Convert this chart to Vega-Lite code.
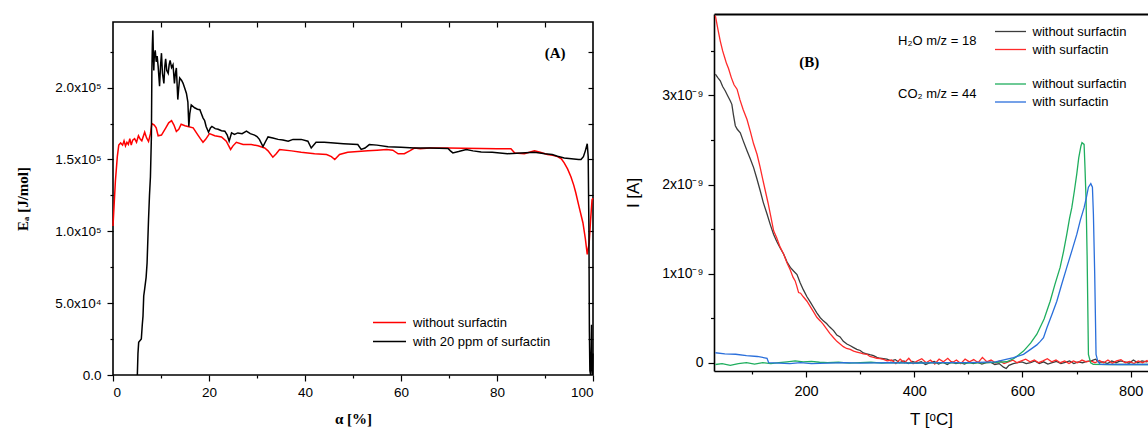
{
  "$schema": "https://vega.github.io/schema/vega-lite/v6.json",
  "background": "white",
  "padding": {"left": 14, "top": 13, "right": 0, "bottom": 0},
  "spacing": 27,
  "config": {
    "view": {"stroke": null},
    "axis": {"grid": false, "domainColor": "black", "tickColor": "black", "labelColor": "black", "titleColor": "black", "labelFont": "Liberation Sans", "domainWidth": 1.6, "tickWidth": 1.2},
    "legend": {"padding": 0, "labelColor": "black", "titleColor": "black"}
  },
  "hconcat": [
    {
      "spacing": 5,
      "vconcat": [
        {"width": 480, "height": 1, "data": {"values": []}, "mark": "point", "encoding": {}},
        {
          "width": 480,
          "height": 353,
          "view": {"stroke": "black", "strokeWidth": 1.6},
          "resolve": {"axis": {"x": "independent", "y": "independent"}},
          "layer": [
            {
              "data": {"values": [
                {"alpha": 0, "Ea": 103700, "series": "without surfactin"},
                {"alpha": 0.5, "Ea": 135000, "series": "without surfactin"},
                {"alpha": 0.9, "Ea": 152000, "series": "without surfactin"},
                {"alpha": 1.2, "Ea": 160000, "series": "without surfactin"},
                {"alpha": 1.6, "Ea": 161500, "series": "without surfactin"},
                {"alpha": 2.0, "Ea": 160000, "series": "without surfactin"},
                {"alpha": 2.3, "Ea": 163000, "series": "without surfactin"},
                {"alpha": 2.6, "Ea": 159500, "series": "without surfactin"},
                {"alpha": 2.9, "Ea": 162000, "series": "without surfactin"},
                {"alpha": 3.2, "Ea": 160500, "series": "without surfactin"},
                {"alpha": 3.5, "Ea": 164500, "series": "without surfactin"},
                {"alpha": 3.8, "Ea": 160000, "series": "without surfactin"},
                {"alpha": 4.1, "Ea": 163500, "series": "without surfactin"},
                {"alpha": 4.5, "Ea": 164500, "series": "without surfactin"},
                {"alpha": 4.9, "Ea": 162000, "series": "without surfactin"},
                {"alpha": 5.3, "Ea": 166500, "series": "without surfactin"},
                {"alpha": 5.7, "Ea": 164000, "series": "without surfactin"},
                {"alpha": 6.0, "Ea": 163000, "series": "without surfactin"},
                {"alpha": 6.6, "Ea": 169000, "series": "without surfactin"},
                {"alpha": 7.0, "Ea": 165000, "series": "without surfactin"},
                {"alpha": 7.4, "Ea": 162500, "series": "without surfactin"},
                {"alpha": 7.8, "Ea": 168000, "series": "without surfactin"},
                {"alpha": 8.1, "Ea": 175000, "series": "without surfactin"},
                {"alpha": 8.6, "Ea": 174000, "series": "without surfactin"},
                {"alpha": 9.0, "Ea": 172000, "series": "without surfactin"},
                {"alpha": 9.4, "Ea": 166500, "series": "without surfactin"},
                {"alpha": 10.1, "Ea": 167000, "series": "without surfactin"},
                {"alpha": 11.0, "Ea": 172000, "series": "without surfactin"},
                {"alpha": 11.6, "Ea": 175500, "series": "without surfactin"},
                {"alpha": 12.2, "Ea": 177000, "series": "without surfactin"},
                {"alpha": 12.7, "Ea": 174000, "series": "without surfactin"},
                {"alpha": 13.2, "Ea": 169500, "series": "without surfactin"},
                {"alpha": 13.7, "Ea": 171000, "series": "without surfactin"},
                {"alpha": 14.2, "Ea": 174500, "series": "without surfactin"},
                {"alpha": 15.0, "Ea": 173500, "series": "without surfactin"},
                {"alpha": 15.6, "Ea": 173000, "series": "without surfactin"},
                {"alpha": 16.7, "Ea": 172000, "series": "without surfactin"},
                {"alpha": 17.7, "Ea": 167000, "series": "without surfactin"},
                {"alpha": 18.2, "Ea": 164500, "series": "without surfactin"},
                {"alpha": 18.75, "Ea": 162000, "series": "without surfactin"},
                {"alpha": 19.3, "Ea": 164000, "series": "without surfactin"},
                {"alpha": 20.1, "Ea": 168000, "series": "without surfactin"},
                {"alpha": 21.2, "Ea": 166500, "series": "without surfactin"},
                {"alpha": 22.6, "Ea": 165700, "series": "without surfactin"},
                {"alpha": 23.6, "Ea": 162700, "series": "without surfactin"},
                {"alpha": 24.5, "Ea": 157000, "series": "without surfactin"},
                {"alpha": 25.0, "Ea": 159500, "series": "without surfactin"},
                {"alpha": 25.7, "Ea": 162000, "series": "without surfactin"},
                {"alpha": 27.1, "Ea": 160500, "series": "without surfactin"},
                {"alpha": 28.8, "Ea": 160400, "series": "without surfactin"},
                {"alpha": 30.2, "Ea": 159500, "series": "without surfactin"},
                {"alpha": 31.6, "Ea": 158000, "series": "without surfactin"},
                {"alpha": 32.3, "Ea": 156000, "series": "without surfactin"},
                {"alpha": 33.3, "Ea": 151600, "series": "without surfactin"},
                {"alpha": 34.0, "Ea": 154000, "series": "without surfactin"},
                {"alpha": 34.7, "Ea": 157000, "series": "without surfactin"},
                {"alpha": 37.2, "Ea": 156000, "series": "without surfactin"},
                {"alpha": 39.2, "Ea": 155000, "series": "without surfactin"},
                {"alpha": 42.0, "Ea": 154000, "series": "without surfactin"},
                {"alpha": 44.5, "Ea": 153500, "series": "without surfactin"},
                {"alpha": 45.5, "Ea": 152000, "series": "without surfactin"},
                {"alpha": 46.2, "Ea": 150000, "series": "without surfactin"},
                {"alpha": 47.2, "Ea": 153500, "series": "without surfactin"},
                {"alpha": 48.9, "Ea": 155000, "series": "without surfactin"},
                {"alpha": 51.0, "Ea": 155500, "series": "without surfactin"},
                {"alpha": 53.1, "Ea": 156000, "series": "without surfactin"},
                {"alpha": 55.0, "Ea": 156500, "series": "without surfactin"},
                {"alpha": 57.0, "Ea": 157000, "series": "without surfactin"},
                {"alpha": 58.3, "Ea": 156500, "series": "without surfactin"},
                {"alpha": 59.4, "Ea": 154000, "series": "without surfactin"},
                {"alpha": 60.7, "Ea": 154000, "series": "without surfactin"},
                {"alpha": 61.8, "Ea": 156000, "series": "without surfactin"},
                {"alpha": 62.8, "Ea": 158000, "series": "without surfactin"},
                {"alpha": 64.0, "Ea": 157500, "series": "without surfactin"},
                {"alpha": 66.0, "Ea": 158000, "series": "without surfactin"},
                {"alpha": 69.7, "Ea": 158000, "series": "without surfactin"},
                {"alpha": 73.0, "Ea": 157800, "series": "without surfactin"},
                {"alpha": 76.7, "Ea": 157600, "series": "without surfactin"},
                {"alpha": 80.0, "Ea": 157500, "series": "without surfactin"},
                {"alpha": 82.9, "Ea": 157400, "series": "without surfactin"},
                {"alpha": 83.7, "Ea": 154500, "series": "without surfactin"},
                {"alpha": 85.7, "Ea": 154000, "series": "without surfactin"},
                {"alpha": 87.8, "Ea": 156000, "series": "without surfactin"},
                {"alpha": 89.0, "Ea": 155000, "series": "without surfactin"},
                {"alpha": 90.5, "Ea": 153500, "series": "without surfactin"},
                {"alpha": 91.6, "Ea": 153000, "series": "without surfactin"},
                {"alpha": 92.6, "Ea": 152000, "series": "without surfactin"},
                {"alpha": 93.4, "Ea": 150500, "series": "without surfactin"},
                {"alpha": 94.0, "Ea": 147700, "series": "without surfactin"},
                {"alpha": 94.7, "Ea": 143500, "series": "without surfactin"},
                {"alpha": 95.4, "Ea": 138000, "series": "without surfactin"},
                {"alpha": 96.0, "Ea": 132000, "series": "without surfactin"},
                {"alpha": 96.4, "Ea": 127000, "series": "without surfactin"},
                {"alpha": 97.1, "Ea": 117000, "series": "without surfactin"},
                {"alpha": 97.9, "Ea": 106000, "series": "without surfactin"},
                {"alpha": 98.4, "Ea": 95000, "series": "without surfactin"},
                {"alpha": 98.8, "Ea": 84000, "series": "without surfactin"},
                {"alpha": 99.2, "Ea": 92000, "series": "without surfactin"},
                {"alpha": 99.5, "Ea": 108000, "series": "without surfactin"},
                {"alpha": 99.8, "Ea": 122000, "series": "without surfactin"},
                {"alpha": 100, "Ea": 123000, "series": "without surfactin"}
              ]},
              "mark": {"type": "line", "strokeWidth": 1.5},
              "encoding": {
                "x": {"field": "alpha", "type": "quantitative", "scale": {"domain": [0, 100], "nice": false},
                  "axis": {"orient": "bottom", "values": [0, 20, 40, 60, 80, 100], "tickSize": 6, "domain": false, "labelFontSize": 13.5, "labelPadding": 4, "title": "α [%]", "titleFont": "Liberation Serif", "titleFontWeight": "bold", "titleFontSize": 15, "titlePadding": 13}},
                "y": {"field": "Ea", "type": "quantitative", "scale": {"domain": [0, 245700], "nice": false},
                  "axis": {"orient": "left", "values": [0, 50000, 100000, 150000, 200000], "labelExpr": "datum.value === 0 ? '0.0' : datum.value === 50000 ? '5.0x10⁴' : format(datum.value / 100000, '.1f') + 'x10⁵'", "tickSize": 6, "domain": false, "labelFontSize": 13.5, "labelPadding": 6, "title": "Eₐ [J/mol]", "titleFont": "Liberation Serif", "titleFontWeight": "bold", "titleFontSize": 15, "titlePadding": 24}},
                "color": {"field": "series", "type": "nominal",
                  "scale": {"domain": ["without surfactin", "with 20 ppm of surfactin"], "range": ["#ff0000", "#000000"]},
                  "legend": {"orient": "none", "legendX": 270, "legendY": 302, "title": null, "symbolType": "M-3.3,0H3.3", "symbolSize": 100, "symbolStrokeWidth": 1.5, "labelFont": "Liberation Sans", "labelFontSize": 13, "labelOffset": 17, "rowPadding": 5}}
              }
            },
            {
              "data": {"values": [
                {"alpha": 5.07, "Ea": 0, "series": "with 20 ppm of surfactin"},
                {"alpha": 5.2, "Ea": 15000, "series": "with 20 ppm of surfactin"},
                {"alpha": 5.35, "Ea": 22700, "series": "with 20 ppm of surfactin"},
                {"alpha": 5.9, "Ea": 25000, "series": "with 20 ppm of surfactin"},
                {"alpha": 6.1, "Ea": 35000, "series": "with 20 ppm of surfactin"},
                {"alpha": 6.25, "Ea": 41000, "series": "with 20 ppm of surfactin"},
                {"alpha": 6.4, "Ea": 55000, "series": "with 20 ppm of surfactin"},
                {"alpha": 6.6, "Ea": 60000, "series": "with 20 ppm of surfactin"},
                {"alpha": 6.9, "Ea": 68000, "series": "with 20 ppm of surfactin"},
                {"alpha": 7.1, "Ea": 78000, "series": "with 20 ppm of surfactin"},
                {"alpha": 7.4, "Ea": 108000, "series": "with 20 ppm of surfactin"},
                {"alpha": 7.6, "Ea": 125000, "series": "with 20 ppm of surfactin"},
                {"alpha": 7.8, "Ea": 138000, "series": "with 20 ppm of surfactin"},
                {"alpha": 8.0, "Ea": 166000, "series": "with 20 ppm of surfactin"},
                {"alpha": 8.1, "Ea": 212000, "series": "with 20 ppm of surfactin"},
                {"alpha": 8.2, "Ea": 230000, "series": "with 20 ppm of surfactin"},
                {"alpha": 8.3, "Ea": 240000, "series": "with 20 ppm of surfactin"},
                {"alpha": 8.4, "Ea": 225000, "series": "with 20 ppm of surfactin"},
                {"alpha": 8.5, "Ea": 212000, "series": "with 20 ppm of surfactin"},
                {"alpha": 8.6, "Ea": 222000, "series": "with 20 ppm of surfactin"},
                {"alpha": 8.8, "Ea": 226000, "series": "with 20 ppm of surfactin"},
                {"alpha": 9.0, "Ea": 218000, "series": "with 20 ppm of surfactin"},
                {"alpha": 9.2, "Ea": 222000, "series": "with 20 ppm of surfactin"},
                {"alpha": 9.4, "Ea": 215000, "series": "with 20 ppm of surfactin"},
                {"alpha": 9.7, "Ea": 201000, "series": "with 20 ppm of surfactin"},
                {"alpha": 9.9, "Ea": 215000, "series": "with 20 ppm of surfactin"},
                {"alpha": 10.1, "Ea": 224000, "series": "with 20 ppm of surfactin"},
                {"alpha": 10.3, "Ea": 210000, "series": "with 20 ppm of surfactin"},
                {"alpha": 10.6, "Ea": 203000, "series": "with 20 ppm of surfactin"},
                {"alpha": 10.8, "Ea": 215000, "series": "with 20 ppm of surfactin"},
                {"alpha": 10.97, "Ea": 220000, "series": "with 20 ppm of surfactin"},
                {"alpha": 11.2, "Ea": 212000, "series": "with 20 ppm of surfactin"},
                {"alpha": 11.5, "Ea": 210000, "series": "with 20 ppm of surfactin"},
                {"alpha": 11.7, "Ea": 216000, "series": "with 20 ppm of surfactin"},
                {"alpha": 11.9, "Ea": 219000, "series": "with 20 ppm of surfactin"},
                {"alpha": 12.2, "Ea": 214000, "series": "with 20 ppm of surfactin"},
                {"alpha": 12.5, "Ea": 216000, "series": "with 20 ppm of surfactin"},
                {"alpha": 12.8, "Ea": 203000, "series": "with 20 ppm of surfactin"},
                {"alpha": 13.0, "Ea": 210000, "series": "with 20 ppm of surfactin"},
                {"alpha": 13.2, "Ea": 213700, "series": "with 20 ppm of surfactin"},
                {"alpha": 13.5, "Ea": 191700, "series": "with 20 ppm of surfactin"},
                {"alpha": 13.7, "Ea": 200000, "series": "with 20 ppm of surfactin"},
                {"alpha": 13.9, "Ea": 206700, "series": "with 20 ppm of surfactin"},
                {"alpha": 14.3, "Ea": 205000, "series": "with 20 ppm of surfactin"},
                {"alpha": 14.6, "Ea": 203000, "series": "with 20 ppm of surfactin"},
                {"alpha": 15.0, "Ea": 199000, "series": "with 20 ppm of surfactin"},
                {"alpha": 15.3, "Ea": 196000, "series": "with 20 ppm of surfactin"},
                {"alpha": 15.6, "Ea": 190000, "series": "with 20 ppm of surfactin"},
                {"alpha": 15.8, "Ea": 173000, "series": "with 20 ppm of surfactin"},
                {"alpha": 16.0, "Ea": 182000, "series": "with 20 ppm of surfactin"},
                {"alpha": 16.3, "Ea": 188000, "series": "with 20 ppm of surfactin"},
                {"alpha": 17.0, "Ea": 186000, "series": "with 20 ppm of surfactin"},
                {"alpha": 17.6, "Ea": 185000, "series": "with 20 ppm of surfactin"},
                {"alpha": 18.1, "Ea": 184700, "series": "with 20 ppm of surfactin"},
                {"alpha": 18.4, "Ea": 182000, "series": "with 20 ppm of surfactin"},
                {"alpha": 18.75, "Ea": 179000, "series": "with 20 ppm of surfactin"},
                {"alpha": 19.1, "Ea": 177000, "series": "with 20 ppm of surfactin"},
                {"alpha": 19.4, "Ea": 173000, "series": "with 20 ppm of surfactin"},
                {"alpha": 19.9, "Ea": 169000, "series": "with 20 ppm of surfactin"},
                {"alpha": 20.3, "Ea": 172000, "series": "with 20 ppm of surfactin"},
                {"alpha": 20.6, "Ea": 173000, "series": "with 20 ppm of surfactin"},
                {"alpha": 21.3, "Ea": 171500, "series": "with 20 ppm of surfactin"},
                {"alpha": 21.9, "Ea": 171000, "series": "with 20 ppm of surfactin"},
                {"alpha": 22.6, "Ea": 170000, "series": "with 20 ppm of surfactin"},
                {"alpha": 23.3, "Ea": 169700, "series": "with 20 ppm of surfactin"},
                {"alpha": 23.8, "Ea": 167000, "series": "with 20 ppm of surfactin"},
                {"alpha": 24.2, "Ea": 162700, "series": "with 20 ppm of surfactin"},
                {"alpha": 24.7, "Ea": 168500, "series": "with 20 ppm of surfactin"},
                {"alpha": 25.3, "Ea": 167500, "series": "with 20 ppm of surfactin"},
                {"alpha": 26.0, "Ea": 168500, "series": "with 20 ppm of surfactin"},
                {"alpha": 26.9, "Ea": 168000, "series": "with 20 ppm of surfactin"},
                {"alpha": 27.8, "Ea": 169700, "series": "with 20 ppm of surfactin"},
                {"alpha": 28.6, "Ea": 168000, "series": "with 20 ppm of surfactin"},
                {"alpha": 29.5, "Ea": 167000, "series": "with 20 ppm of surfactin"},
                {"alpha": 30.0, "Ea": 166000, "series": "with 20 ppm of surfactin"},
                {"alpha": 30.5, "Ea": 164000, "series": "with 20 ppm of surfactin"},
                {"alpha": 31.25, "Ea": 159000, "series": "with 20 ppm of surfactin"},
                {"alpha": 31.7, "Ea": 162000, "series": "with 20 ppm of surfactin"},
                {"alpha": 32.3, "Ea": 165700, "series": "with 20 ppm of surfactin"},
                {"alpha": 33.3, "Ea": 165000, "series": "with 20 ppm of surfactin"},
                {"alpha": 34.4, "Ea": 164000, "series": "with 20 ppm of surfactin"},
                {"alpha": 35.4, "Ea": 163500, "series": "with 20 ppm of surfactin"},
                {"alpha": 36.5, "Ea": 162700, "series": "with 20 ppm of surfactin"},
                {"alpha": 37.5, "Ea": 164000, "series": "with 20 ppm of surfactin"},
                {"alpha": 39.2, "Ea": 164000, "series": "with 20 ppm of surfactin"},
                {"alpha": 40.6, "Ea": 162700, "series": "with 20 ppm of surfactin"},
                {"alpha": 41.3, "Ea": 158000, "series": "with 20 ppm of surfactin"},
                {"alpha": 42.3, "Ea": 162000, "series": "with 20 ppm of surfactin"},
                {"alpha": 44.0, "Ea": 162000, "series": "with 20 ppm of surfactin"},
                {"alpha": 45.4, "Ea": 161600, "series": "with 20 ppm of surfactin"},
                {"alpha": 48.0, "Ea": 161000, "series": "with 20 ppm of surfactin"},
                {"alpha": 51.0, "Ea": 160400, "series": "with 20 ppm of surfactin"},
                {"alpha": 51.7, "Ea": 157000, "series": "with 20 ppm of surfactin"},
                {"alpha": 52.5, "Ea": 158000, "series": "with 20 ppm of surfactin"},
                {"alpha": 53.4, "Ea": 160400, "series": "with 20 ppm of surfactin"},
                {"alpha": 55.0, "Ea": 160000, "series": "with 20 ppm of surfactin"},
                {"alpha": 57.3, "Ea": 158800, "series": "with 20 ppm of surfactin"},
                {"alpha": 60.0, "Ea": 158500, "series": "with 20 ppm of surfactin"},
                {"alpha": 62.8, "Ea": 158000, "series": "with 20 ppm of surfactin"},
                {"alpha": 66.0, "Ea": 158000, "series": "with 20 ppm of surfactin"},
                {"alpha": 69.8, "Ea": 157600, "series": "with 20 ppm of surfactin"},
                {"alpha": 70.3, "Ea": 156000, "series": "with 20 ppm of surfactin"},
                {"alpha": 70.8, "Ea": 154600, "series": "with 20 ppm of surfactin"},
                {"alpha": 72.0, "Ea": 155500, "series": "with 20 ppm of surfactin"},
                {"alpha": 73.6, "Ea": 157000, "series": "with 20 ppm of surfactin"},
                {"alpha": 75.0, "Ea": 156000, "series": "with 20 ppm of surfactin"},
                {"alpha": 76.7, "Ea": 155300, "series": "with 20 ppm of surfactin"},
                {"alpha": 79.0, "Ea": 155000, "series": "with 20 ppm of surfactin"},
                {"alpha": 82.2, "Ea": 154000, "series": "with 20 ppm of surfactin"},
                {"alpha": 85.0, "Ea": 154500, "series": "with 20 ppm of surfactin"},
                {"alpha": 87.8, "Ea": 155000, "series": "with 20 ppm of surfactin"},
                {"alpha": 90.0, "Ea": 154000, "series": "with 20 ppm of surfactin"},
                {"alpha": 91.5, "Ea": 153500, "series": "with 20 ppm of surfactin"},
                {"alpha": 92.6, "Ea": 152300, "series": "with 20 ppm of surfactin"},
                {"alpha": 94.0, "Ea": 151000, "series": "with 20 ppm of surfactin"},
                {"alpha": 95.5, "Ea": 150500, "series": "with 20 ppm of surfactin"},
                {"alpha": 97.0, "Ea": 150000, "series": "with 20 ppm of surfactin"},
                {"alpha": 97.5, "Ea": 150000, "series": "with 20 ppm of surfactin"},
                {"alpha": 98.0, "Ea": 152000, "series": "with 20 ppm of surfactin"},
                {"alpha": 98.4, "Ea": 156000, "series": "with 20 ppm of surfactin"},
                {"alpha": 98.8, "Ea": 161000, "series": "with 20 ppm of surfactin"},
                {"alpha": 99.0, "Ea": 152000, "series": "with 20 ppm of surfactin"},
                {"alpha": 99.15, "Ea": 100000, "series": "with 20 ppm of surfactin"},
                {"alpha": 99.25, "Ea": 30000, "series": "with 20 ppm of surfactin"},
                {"alpha": 99.35, "Ea": 3000, "series": "with 20 ppm of surfactin"},
                {"alpha": 99.5, "Ea": 0, "series": "with 20 ppm of surfactin"},
                {"alpha": 99.65, "Ea": 20000, "series": "with 20 ppm of surfactin"},
                {"alpha": 99.7, "Ea": 35000, "series": "with 20 ppm of surfactin"},
                {"alpha": 99.8, "Ea": 5000, "series": "with 20 ppm of surfactin"},
                {"alpha": 99.9, "Ea": 0, "series": "with 20 ppm of surfactin"},
                {"alpha": 100, "Ea": 15000, "series": "with 20 ppm of surfactin"}
              ]},
              "mark": {"type": "line", "strokeWidth": 1.5},
              "encoding": {
                "x": {"field": "alpha", "type": "quantitative", "scale": {"domain": [0, 100], "nice": false},
                  "axis": {"orient": "bottom", "values": [10, 30, 50, 70, 90], "tickSize": 3, "labels": false, "domain": false, "title": null}},
                "y": {"field": "Ea", "type": "quantitative", "scale": {"domain": [0, 245700], "nice": false},
                  "axis": {"orient": "left", "values": [25000, 75000, 125000, 175000, 225000], "tickSize": 3, "labels": false, "domain": false, "title": null}},
                "color": {"field": "series", "type": "nominal",
                  "scale": {"domain": ["without surfactin", "with 20 ppm of surfactin"], "range": ["#ff0000", "#000000"]},
                  "legend": {"orient": "none", "legendX": 270, "legendY": 302, "title": null, "symbolType": "M-3.3,0H3.3", "symbolSize": 100, "symbolStrokeWidth": 1.5, "labelFont": "Liberation Sans", "labelFontSize": 13, "labelOffset": 17, "rowPadding": 5}}
              }
            },
            {
              "data": {"values": [{"alpha": 92.1, "Ea": 224000, "label": "(A)"}]},
              "mark": {"type": "text", "font": "Liberation Serif", "fontWeight": "bold", "fontSize": 15, "color": "black"},
              "encoding": {
                "x": {"field": "alpha", "type": "quantitative", "scale": {"domain": [0, 100], "nice": false},
                  "axis": {"orient": "top", "values": [10, 20, 30, 40, 50, 60, 70, 80, 90], "labels": false, "tickSize": 5, "offset": -5, "domain": false, "title": null}},
                "y": {"field": "Ea", "type": "quantitative", "scale": {"domain": [0, 245700], "nice": false},
                  "axis": {"orient": "right", "values": [25000, 50000, 75000, 100000, 125000, 150000, 175000, 200000, 225000], "labels": false, "tickSize": 5, "offset": -5, "domain": false, "title": null}},
                "text": {"field": "label"}
              }
            }
          ]
        }
      ]
    },
    {
      "width": 434,
      "height": 357,
      "resolve": {"axis": {"x": "independent", "y": "independent"}, "scale": {"color": "independent"}},
      "layer": [
        {
          "data": {"values": [
            {"T": 32.5, "I_nA": 3.24, "series": "without surfactin"},
            {"T": 37, "I_nA": 3.2, "series": "without surfactin"},
            {"T": 41.6, "I_nA": 3.165, "series": "without surfactin"},
            {"T": 46, "I_nA": 3.1, "series": "without surfactin"},
            {"T": 50.9, "I_nA": 3.05, "series": "without surfactin"},
            {"T": 55, "I_nA": 3.0, "series": "without surfactin"},
            {"T": 60, "I_nA": 2.94, "series": "without surfactin"},
            {"T": 63, "I_nA": 2.9, "series": "without surfactin"},
            {"T": 66, "I_nA": 2.78, "series": "without surfactin"},
            {"T": 69.4, "I_nA": 2.66, "series": "without surfactin"},
            {"T": 73, "I_nA": 2.62, "series": "without surfactin"},
            {"T": 78.6, "I_nA": 2.58, "series": "without surfactin"},
            {"T": 84, "I_nA": 2.49, "series": "without surfactin"},
            {"T": 91, "I_nA": 2.38, "series": "without surfactin"},
            {"T": 97, "I_nA": 2.29, "series": "without surfactin"},
            {"T": 103.2, "I_nA": 2.19, "series": "without surfactin"},
            {"T": 109, "I_nA": 2.07, "series": "without surfactin"},
            {"T": 115.4, "I_nA": 1.93, "series": "without surfactin"},
            {"T": 121, "I_nA": 1.8, "series": "without surfactin"},
            {"T": 128, "I_nA": 1.67, "series": "without surfactin"},
            {"T": 134, "I_nA": 1.55, "series": "without surfactin"},
            {"T": 140.2, "I_nA": 1.44, "series": "without surfactin"},
            {"T": 146, "I_nA": 1.36, "series": "without surfactin"},
            {"T": 152, "I_nA": 1.29, "series": "without surfactin"},
            {"T": 158.6, "I_nA": 1.22, "series": "without surfactin"},
            {"T": 165, "I_nA": 1.13, "series": "without surfactin"},
            {"T": 171, "I_nA": 1.07, "series": "without surfactin"},
            {"T": 177, "I_nA": 1.03, "series": "without surfactin"},
            {"T": 183.4, "I_nA": 0.99, "series": "without surfactin"},
            {"T": 189, "I_nA": 0.9, "series": "without surfactin"},
            {"T": 195, "I_nA": 0.82, "series": "without surfactin"},
            {"T": 201.8, "I_nA": 0.74, "series": "without surfactin"},
            {"T": 208, "I_nA": 0.68, "series": "without surfactin"},
            {"T": 214, "I_nA": 0.62, "series": "without surfactin"},
            {"T": 220, "I_nA": 0.56, "series": "without surfactin"},
            {"T": 226.4, "I_nA": 0.505, "series": "without surfactin"},
            {"T": 232, "I_nA": 0.47, "series": "without surfactin"},
            {"T": 238, "I_nA": 0.44, "series": "without surfactin"},
            {"T": 244, "I_nA": 0.4, "series": "without surfactin"},
            {"T": 251, "I_nA": 0.36, "series": "without surfactin"},
            {"T": 257, "I_nA": 0.31, "series": "without surfactin"},
            {"T": 263, "I_nA": 0.29, "series": "without surfactin"},
            {"T": 269, "I_nA": 0.24, "series": "without surfactin"},
            {"T": 275.6, "I_nA": 0.21, "series": "without surfactin"},
            {"T": 282, "I_nA": 0.19, "series": "without surfactin"},
            {"T": 288, "I_nA": 0.17, "series": "without surfactin"},
            {"T": 294, "I_nA": 0.15, "series": "without surfactin"},
            {"T": 300.2, "I_nA": 0.137, "series": "without surfactin"},
            {"T": 306, "I_nA": 0.11, "series": "without surfactin"},
            {"T": 312, "I_nA": 0.1, "series": "without surfactin"},
            {"T": 318, "I_nA": 0.09, "series": "without surfactin"},
            {"T": 324.8, "I_nA": 0.08, "series": "without surfactin"},
            {"T": 331, "I_nA": 0.06, "series": "without surfactin"},
            {"T": 337, "I_nA": 0.05, "series": "without surfactin"},
            {"T": 343, "I_nA": 0.045, "series": "without surfactin"},
            {"T": 349.5, "I_nA": 0.04, "series": "without surfactin"},
            {"T": 357, "I_nA": 0.02, "series": "without surfactin"},
            {"T": 365, "I_nA": 0.035, "series": "without surfactin"},
            {"T": 373, "I_nA": 0.0, "series": "without surfactin"},
            {"T": 381, "I_nA": 0.02, "series": "without surfactin"},
            {"T": 389, "I_nA": -0.01, "series": "without surfactin"},
            {"T": 397, "I_nA": 0.015, "series": "without surfactin"},
            {"T": 405, "I_nA": -0.005, "series": "without surfactin"},
            {"T": 413, "I_nA": 0.01, "series": "without surfactin"},
            {"T": 421, "I_nA": -0.02, "series": "without surfactin"},
            {"T": 429, "I_nA": 0.0, "series": "without surfactin"},
            {"T": 437, "I_nA": 0.015, "series": "without surfactin"},
            {"T": 445, "I_nA": -0.015, "series": "without surfactin"},
            {"T": 453, "I_nA": 0.005, "series": "without surfactin"},
            {"T": 461, "I_nA": -0.02, "series": "without surfactin"},
            {"T": 469, "I_nA": 0.01, "series": "without surfactin"},
            {"T": 477, "I_nA": -0.01, "series": "without surfactin"},
            {"T": 485, "I_nA": 0.0, "series": "without surfactin"},
            {"T": 493, "I_nA": -0.015, "series": "without surfactin"},
            {"T": 501, "I_nA": 0.01, "series": "without surfactin"},
            {"T": 509, "I_nA": -0.01, "series": "without surfactin"},
            {"T": 517, "I_nA": 0.005, "series": "without surfactin"},
            {"T": 525, "I_nA": -0.015, "series": "without surfactin"},
            {"T": 533, "I_nA": 0.0, "series": "without surfactin"},
            {"T": 541, "I_nA": 0.005, "series": "without surfactin"},
            {"T": 549, "I_nA": -0.02, "series": "without surfactin"},
            {"T": 557, "I_nA": -0.01, "series": "without surfactin"},
            {"T": 565, "I_nA": -0.05, "series": "without surfactin"},
            {"T": 570, "I_nA": -0.065, "series": "without surfactin"},
            {"T": 575, "I_nA": -0.03, "series": "without surfactin"},
            {"T": 583, "I_nA": -0.01, "series": "without surfactin"},
            {"T": 591, "I_nA": 0.0, "series": "without surfactin"},
            {"T": 599, "I_nA": 0.01, "series": "without surfactin"},
            {"T": 607, "I_nA": -0.01, "series": "without surfactin"},
            {"T": 615, "I_nA": 0.0, "series": "without surfactin"},
            {"T": 623, "I_nA": 0.02, "series": "without surfactin"},
            {"T": 631, "I_nA": -0.01, "series": "without surfactin"},
            {"T": 639, "I_nA": 0.01, "series": "without surfactin"},
            {"T": 647, "I_nA": -0.015, "series": "without surfactin"},
            {"T": 655, "I_nA": 0.0, "series": "without surfactin"},
            {"T": 663, "I_nA": 0.015, "series": "without surfactin"},
            {"T": 671, "I_nA": -0.01, "series": "without surfactin"},
            {"T": 679, "I_nA": 0.005, "series": "without surfactin"},
            {"T": 687, "I_nA": 0.02, "series": "without surfactin"},
            {"T": 695, "I_nA": -0.01, "series": "without surfactin"},
            {"T": 703, "I_nA": 0.01, "series": "without surfactin"},
            {"T": 711, "I_nA": 0.0, "series": "without surfactin"},
            {"T": 719, "I_nA": 0.015, "series": "without surfactin"},
            {"T": 727, "I_nA": 0.02, "series": "without surfactin"},
            {"T": 735, "I_nA": 0.04, "series": "without surfactin"},
            {"T": 741, "I_nA": 0.005, "series": "without surfactin"},
            {"T": 749, "I_nA": 0.01, "series": "without surfactin"},
            {"T": 757, "I_nA": -0.01, "series": "without surfactin"},
            {"T": 765, "I_nA": 0.02, "series": "without surfactin"},
            {"T": 773, "I_nA": 0.0, "series": "without surfactin"},
            {"T": 781, "I_nA": 0.02, "series": "without surfactin"},
            {"T": 789, "I_nA": 0.01, "series": "without surfactin"},
            {"T": 797, "I_nA": -0.005, "series": "without surfactin"},
            {"T": 805, "I_nA": 0.03, "series": "without surfactin"},
            {"T": 813, "I_nA": 0.0, "series": "without surfactin"},
            {"T": 821, "I_nA": 0.02, "series": "without surfactin"},
            {"T": 829, "I_nA": 0.01, "series": "without surfactin"},
            {"T": 832, "I_nA": 0.015, "series": "without surfactin"},
            {"T": 32.5, "I_nA": 3.895, "series": "with surfactin"},
            {"T": 37, "I_nA": 3.75, "series": "with surfactin"},
            {"T": 41.6, "I_nA": 3.61, "series": "with surfactin"},
            {"T": 46, "I_nA": 3.5, "series": "with surfactin"},
            {"T": 50, "I_nA": 3.42, "series": "with surfactin"},
            {"T": 53, "I_nA": 3.36, "series": "with surfactin"},
            {"T": 57, "I_nA": 3.3, "series": "with surfactin"},
            {"T": 62, "I_nA": 3.2, "series": "with surfactin"},
            {"T": 67, "I_nA": 3.12, "series": "with surfactin"},
            {"T": 72.6, "I_nA": 3.07, "series": "with surfactin"},
            {"T": 78, "I_nA": 2.95, "series": "with surfactin"},
            {"T": 84, "I_nA": 2.84, "series": "with surfactin"},
            {"T": 91, "I_nA": 2.73, "series": "with surfactin"},
            {"T": 97, "I_nA": 2.6, "series": "with surfactin"},
            {"T": 103, "I_nA": 2.46, "series": "with surfactin"},
            {"T": 109.5, "I_nA": 2.34, "series": "with surfactin"},
            {"T": 115, "I_nA": 2.2, "series": "with surfactin"},
            {"T": 120, "I_nA": 2.06, "series": "with surfactin"},
            {"T": 124.8, "I_nA": 1.93, "series": "with surfactin"},
            {"T": 130, "I_nA": 1.79, "series": "with surfactin"},
            {"T": 135, "I_nA": 1.64, "series": "with surfactin"},
            {"T": 140.2, "I_nA": 1.48, "series": "with surfactin"},
            {"T": 146, "I_nA": 1.4, "series": "with surfactin"},
            {"T": 152, "I_nA": 1.3, "series": "with surfactin"},
            {"T": 158.6, "I_nA": 1.22, "series": "with surfactin"},
            {"T": 165, "I_nA": 1.12, "series": "with surfactin"},
            {"T": 171, "I_nA": 1.04, "series": "with surfactin"},
            {"T": 176, "I_nA": 0.96, "series": "with surfactin"},
            {"T": 180, "I_nA": 0.918, "series": "with surfactin"},
            {"T": 183, "I_nA": 0.86, "series": "with surfactin"},
            {"T": 186.3, "I_nA": 0.787, "series": "with surfactin"},
            {"T": 190, "I_nA": 0.78, "series": "with surfactin"},
            {"T": 195, "I_nA": 0.74, "series": "with surfactin"},
            {"T": 201.8, "I_nA": 0.69, "series": "with surfactin"},
            {"T": 208, "I_nA": 0.63, "series": "with surfactin"},
            {"T": 214, "I_nA": 0.57, "series": "with surfactin"},
            {"T": 220, "I_nA": 0.51, "series": "with surfactin"},
            {"T": 226.4, "I_nA": 0.469, "series": "with surfactin"},
            {"T": 232, "I_nA": 0.43, "series": "with surfactin"},
            {"T": 238, "I_nA": 0.38, "series": "with surfactin"},
            {"T": 244, "I_nA": 0.33, "series": "with surfactin"},
            {"T": 251, "I_nA": 0.28, "series": "with surfactin"},
            {"T": 257, "I_nA": 0.24, "series": "with surfactin"},
            {"T": 263, "I_nA": 0.21, "series": "with surfactin"},
            {"T": 269, "I_nA": 0.18, "series": "with surfactin"},
            {"T": 275, "I_nA": 0.16, "series": "with surfactin"},
            {"T": 281.8, "I_nA": 0.15, "series": "with surfactin"},
            {"T": 288, "I_nA": 0.13, "series": "with surfactin"},
            {"T": 294, "I_nA": 0.12, "series": "with surfactin"},
            {"T": 300, "I_nA": 0.11, "series": "with surfactin"},
            {"T": 306, "I_nA": 0.1, "series": "with surfactin"},
            {"T": 312.6, "I_nA": 0.094, "series": "with surfactin"},
            {"T": 318, "I_nA": 0.07, "series": "with surfactin"},
            {"T": 325, "I_nA": 0.06, "series": "with surfactin"},
            {"T": 331, "I_nA": 0.05, "series": "with surfactin"},
            {"T": 337, "I_nA": 0.045, "series": "with surfactin"},
            {"T": 343.3, "I_nA": 0.038, "series": "with surfactin"},
            {"T": 350, "I_nA": 0.02, "series": "with surfactin"},
            {"T": 358, "I_nA": 0.03, "series": "with surfactin"},
            {"T": 366, "I_nA": -0.01, "series": "with surfactin"},
            {"T": 374, "I_nA": 0.04, "series": "with surfactin"},
            {"T": 382, "I_nA": 0.0, "series": "with surfactin"},
            {"T": 390, "I_nA": 0.05, "series": "with surfactin"},
            {"T": 398, "I_nA": -0.01, "series": "with surfactin"},
            {"T": 406, "I_nA": 0.02, "series": "with surfactin"},
            {"T": 414, "I_nA": 0.045, "series": "with surfactin"},
            {"T": 422, "I_nA": 0.0, "series": "with surfactin"},
            {"T": 430, "I_nA": 0.03, "series": "with surfactin"},
            {"T": 438, "I_nA": -0.015, "series": "with surfactin"},
            {"T": 446, "I_nA": 0.04, "series": "with surfactin"},
            {"T": 454, "I_nA": 0.01, "series": "with surfactin"},
            {"T": 462, "I_nA": 0.05, "series": "with surfactin"},
            {"T": 470, "I_nA": 0.0, "series": "with surfactin"},
            {"T": 478, "I_nA": 0.03, "series": "with surfactin"},
            {"T": 486, "I_nA": -0.01, "series": "with surfactin"},
            {"T": 494, "I_nA": 0.04, "series": "with surfactin"},
            {"T": 502, "I_nA": 0.01, "series": "with surfactin"},
            {"T": 510, "I_nA": 0.035, "series": "with surfactin"},
            {"T": 518, "I_nA": 0.0, "series": "with surfactin"},
            {"T": 526, "I_nA": 0.06, "series": "with surfactin"},
            {"T": 534, "I_nA": 0.01, "series": "with surfactin"},
            {"T": 542, "I_nA": 0.03, "series": "with surfactin"},
            {"T": 550, "I_nA": 0.0, "series": "with surfactin"},
            {"T": 558, "I_nA": 0.02, "series": "with surfactin"},
            {"T": 566, "I_nA": -0.01, "series": "with surfactin"},
            {"T": 574, "I_nA": 0.01, "series": "with surfactin"},
            {"T": 582, "I_nA": 0.03, "series": "with surfactin"},
            {"T": 590, "I_nA": 0.0, "series": "with surfactin"},
            {"T": 598, "I_nA": 0.02, "series": "with surfactin"},
            {"T": 606, "I_nA": 0.04, "series": "with surfactin"},
            {"T": 614, "I_nA": 0.01, "series": "with surfactin"},
            {"T": 622, "I_nA": 0.03, "series": "with surfactin"},
            {"T": 630, "I_nA": 0.0, "series": "with surfactin"},
            {"T": 638, "I_nA": 0.02, "series": "with surfactin"},
            {"T": 646, "I_nA": 0.045, "series": "with surfactin"},
            {"T": 654, "I_nA": 0.01, "series": "with surfactin"},
            {"T": 662, "I_nA": 0.03, "series": "with surfactin"},
            {"T": 670, "I_nA": 0.0, "series": "with surfactin"},
            {"T": 678, "I_nA": 0.02, "series": "with surfactin"},
            {"T": 686, "I_nA": -0.01, "series": "with surfactin"},
            {"T": 694, "I_nA": 0.02, "series": "with surfactin"},
            {"T": 702, "I_nA": 0.0, "series": "with surfactin"},
            {"T": 710, "I_nA": 0.03, "series": "with surfactin"},
            {"T": 718, "I_nA": 0.01, "series": "with surfactin"},
            {"T": 726, "I_nA": 0.02, "series": "with surfactin"},
            {"T": 734, "I_nA": 0.0, "series": "with surfactin"},
            {"T": 742, "I_nA": 0.025, "series": "with surfactin"},
            {"T": 750, "I_nA": 0.0, "series": "with surfactin"},
            {"T": 758, "I_nA": 0.03, "series": "with surfactin"},
            {"T": 766, "I_nA": -0.005, "series": "with surfactin"},
            {"T": 774, "I_nA": 0.02, "series": "with surfactin"},
            {"T": 782, "I_nA": 0.035, "series": "with surfactin"},
            {"T": 790, "I_nA": 0.0, "series": "with surfactin"},
            {"T": 798, "I_nA": 0.015, "series": "with surfactin"},
            {"T": 806, "I_nA": -0.01, "series": "with surfactin"},
            {"T": 814, "I_nA": 0.02, "series": "with surfactin"},
            {"T": 822, "I_nA": 0.0, "series": "with surfactin"},
            {"T": 830, "I_nA": 0.025, "series": "with surfactin"},
            {"T": 832, "I_nA": 0.01, "series": "with surfactin"}
          ]},
          "mark": {"type": "line", "strokeWidth": 1.3},
          "encoding": {
            "x": {"field": "T", "type": "quantitative", "scale": {"domain": [30, 832], "nice": false},
              "axis": {"orient": "bottom", "values": [200, 400, 600, 800], "tickSize": 6, "domain": true, "labelFontSize": 14.5, "labelPadding": 7, "title": "T [ᵒC]", "titleFont": "Liberation Sans", "titleFontWeight": "normal", "titleFontSize": 17, "titlePadding": 14}},
            "y": {"field": "I_nA", "type": "quantitative", "scale": {"domain": [-0.093, 3.914], "nice": false},
              "axis": {"orient": "left", "values": [0, 1, 2, 3], "labelExpr": "datum.value === 0 ? '0' : datum.value + 'x10⁻⁹'", "tickSize": 6, "domain": true, "labelFontSize": 14, "labelPadding": 5, "title": "I [A]", "titleFont": "Liberation Sans", "titleFontWeight": "normal", "titleFontSize": 17, "titlePadding": 19}},
            "color": {"field": "series", "type": "nominal",
              "scale": {"domain": ["without surfactin", "with surfactin"], "range": ["#3c3c3c", "#ff2a2a"]},
              "legend": {"orient": "none", "legendX": 184, "legendY": 11, "title": "H₂O m/z = 18", "titleOrient": "left", "titleAnchor": "middle", "titleBaseline": "middle", "titleFont": "Liberation Sans", "titleFontWeight": "normal", "titleFontSize": 13, "titlePadding": 27, "symbolType": "M-3.1,0H3.1", "symbolSize": 100, "symbolStrokeWidth": 1.3, "labelFont": "Liberation Sans", "labelFontSize": 13, "labelOffset": 15.5, "rowPadding": 4}}
          }
        },
        {
          "data": {"values": [
            {"T": 32.5, "I_nA": -0.02, "series": "without surfactin"},
            {"T": 45, "I_nA": -0.01, "series": "without surfactin"},
            {"T": 60, "I_nA": -0.03, "series": "without surfactin"},
            {"T": 75, "I_nA": -0.01, "series": "without surfactin"},
            {"T": 90, "I_nA": 0.0, "series": "without surfactin"},
            {"T": 105, "I_nA": -0.015, "series": "without surfactin"},
            {"T": 120, "I_nA": 0.0, "series": "without surfactin"},
            {"T": 135, "I_nA": -0.01, "series": "without surfactin"},
            {"T": 150, "I_nA": 0.0, "series": "without surfactin"},
            {"T": 165, "I_nA": 0.01, "series": "without surfactin"},
            {"T": 180, "I_nA": 0.02, "series": "without surfactin"},
            {"T": 195, "I_nA": 0.01, "series": "without surfactin"},
            {"T": 210, "I_nA": 0.015, "series": "without surfactin"},
            {"T": 225, "I_nA": 0.005, "series": "without surfactin"},
            {"T": 240, "I_nA": 0.0, "series": "without surfactin"},
            {"T": 260, "I_nA": 0.005, "series": "without surfactin"},
            {"T": 280, "I_nA": -0.005, "series": "without surfactin"},
            {"T": 300, "I_nA": 0.0, "series": "without surfactin"},
            {"T": 320, "I_nA": 0.005, "series": "without surfactin"},
            {"T": 340, "I_nA": -0.005, "series": "without surfactin"},
            {"T": 360, "I_nA": 0.0, "series": "without surfactin"},
            {"T": 400, "I_nA": -0.005, "series": "without surfactin"},
            {"T": 450, "I_nA": 0.0, "series": "without surfactin"},
            {"T": 500, "I_nA": -0.005, "series": "without surfactin"},
            {"T": 540, "I_nA": 0.0, "series": "without surfactin"},
            {"T": 571, "I_nA": 0.011, "series": "without surfactin"},
            {"T": 585, "I_nA": 0.05, "series": "without surfactin"},
            {"T": 601.9, "I_nA": 0.13, "series": "without surfactin"},
            {"T": 615, "I_nA": 0.22, "series": "without surfactin"},
            {"T": 626.6, "I_nA": 0.32, "series": "without surfactin"},
            {"T": 640, "I_nA": 0.49, "series": "without surfactin"},
            {"T": 651.2, "I_nA": 0.69, "series": "without surfactin"},
            {"T": 660, "I_nA": 0.88, "series": "without surfactin"},
            {"T": 669.6, "I_nA": 1.07, "series": "without surfactin"},
            {"T": 676, "I_nA": 1.25, "series": "without surfactin"},
            {"T": 681.9, "I_nA": 1.44, "series": "without surfactin"},
            {"T": 687, "I_nA": 1.62, "series": "without surfactin"},
            {"T": 691.2, "I_nA": 1.74, "series": "without surfactin"},
            {"T": 696, "I_nA": 1.93, "series": "without surfactin"},
            {"T": 700.4, "I_nA": 2.12, "series": "without surfactin"},
            {"T": 704, "I_nA": 2.3, "series": "without surfactin"},
            {"T": 708, "I_nA": 2.43, "series": "without surfactin"},
            {"T": 710, "I_nA": 2.47, "series": "without surfactin"},
            {"T": 713.9, "I_nA": 2.45, "series": "without surfactin"},
            {"T": 715.5, "I_nA": 2.2, "series": "without surfactin"},
            {"T": 717.6, "I_nA": 1.82, "series": "without surfactin"},
            {"T": 719.5, "I_nA": 1.2, "series": "without surfactin"},
            {"T": 721.9, "I_nA": 0.094, "series": "without surfactin"},
            {"T": 726, "I_nA": 0.0, "series": "without surfactin"},
            {"T": 731, "I_nA": -0.018, "series": "without surfactin"},
            {"T": 760, "I_nA": -0.02, "series": "without surfactin"},
            {"T": 800, "I_nA": -0.02, "series": "without surfactin"},
            {"T": 832, "I_nA": -0.02, "series": "without surfactin"},
            {"T": 32.5, "I_nA": 0.112, "series": "with surfactin"},
            {"T": 50, "I_nA": 0.1, "series": "with surfactin"},
            {"T": 70, "I_nA": 0.095, "series": "with surfactin"},
            {"T": 90, "I_nA": 0.08, "series": "with surfactin"},
            {"T": 110, "I_nA": 0.07, "series": "with surfactin"},
            {"T": 128, "I_nA": 0.05, "series": "with surfactin"},
            {"T": 131, "I_nA": 0.0, "series": "with surfactin"},
            {"T": 150, "I_nA": -0.005, "series": "with surfactin"},
            {"T": 170, "I_nA": -0.01, "series": "with surfactin"},
            {"T": 190, "I_nA": 0.0, "series": "with surfactin"},
            {"T": 210, "I_nA": -0.01, "series": "with surfactin"},
            {"T": 240, "I_nA": -0.005, "series": "with surfactin"},
            {"T": 270, "I_nA": 0.0, "series": "with surfactin"},
            {"T": 300, "I_nA": -0.005, "series": "with surfactin"},
            {"T": 350, "I_nA": 0.0, "series": "with surfactin"},
            {"T": 400, "I_nA": -0.005, "series": "with surfactin"},
            {"T": 450, "I_nA": 0.0, "series": "with surfactin"},
            {"T": 500, "I_nA": 0.0, "series": "with surfactin"},
            {"T": 550, "I_nA": 0.01, "series": "with surfactin"},
            {"T": 583.4, "I_nA": 0.056, "series": "with surfactin"},
            {"T": 601.9, "I_nA": 0.094, "series": "with surfactin"},
            {"T": 615, "I_nA": 0.15, "series": "with surfactin"},
            {"T": 626.6, "I_nA": 0.2, "series": "with surfactin"},
            {"T": 633, "I_nA": 0.24, "series": "with surfactin"},
            {"T": 638.9, "I_nA": 0.28, "series": "with surfactin"},
            {"T": 645, "I_nA": 0.39, "series": "with surfactin"},
            {"T": 655, "I_nA": 0.55, "series": "with surfactin"},
            {"T": 663.5, "I_nA": 0.69, "series": "with surfactin"},
            {"T": 672, "I_nA": 0.87, "series": "with surfactin"},
            {"T": 681.9, "I_nA": 1.07, "series": "with surfactin"},
            {"T": 691, "I_nA": 1.25, "series": "with surfactin"},
            {"T": 700.4, "I_nA": 1.44, "series": "with surfactin"},
            {"T": 707, "I_nA": 1.6, "series": "with surfactin"},
            {"T": 713.9, "I_nA": 1.74, "series": "with surfactin"},
            {"T": 718, "I_nA": 1.85, "series": "with surfactin"},
            {"T": 721.9, "I_nA": 1.97, "series": "with surfactin"},
            {"T": 726.3, "I_nA": 2.01, "series": "with surfactin"},
            {"T": 729.3, "I_nA": 1.97, "series": "with surfactin"},
            {"T": 731.1, "I_nA": 1.67, "series": "with surfactin"},
            {"T": 733.5, "I_nA": 1.0, "series": "with surfactin"},
            {"T": 736, "I_nA": 0.094, "series": "with surfactin"},
            {"T": 739, "I_nA": 0.02, "series": "with surfactin"},
            {"T": 743.5, "I_nA": -0.018, "series": "with surfactin"},
            {"T": 780, "I_nA": -0.02, "series": "with surfactin"},
            {"T": 832, "I_nA": -0.02, "series": "with surfactin"}
          ]},
          "mark": {"type": "line", "strokeWidth": 1.3},
          "encoding": {
            "x": {"field": "T", "type": "quantitative", "scale": {"domain": [30, 832], "nice": false},
              "axis": {"orient": "bottom", "values": [100, 300, 500, 700], "tickSize": 3, "labels": false, "domain": false, "title": null}},
            "y": {"field": "I_nA", "type": "quantitative", "scale": {"domain": [-0.093, 3.914], "nice": false},
              "axis": {"orient": "left", "values": [0.5, 1.5, 2.5, 3.5], "tickSize": 3.5, "labels": false, "domain": false, "title": null}},
            "color": {"field": "series", "type": "nominal",
              "scale": {"domain": ["without surfactin", "with surfactin"], "range": ["#1fae5e", "#2a6fdb"]},
              "legend": {"orient": "none", "legendX": 184, "legendY": 63.5, "title": "CO₂ m/z = 44", "titleOrient": "left", "titleAnchor": "middle", "titleBaseline": "middle", "titleFont": "Liberation Sans", "titleFontWeight": "normal", "titleFontSize": 13, "titlePadding": 27, "symbolType": "M-3.1,0H3.1", "symbolSize": 100, "symbolStrokeWidth": 1.3, "labelFont": "Liberation Sans", "labelFontSize": 13, "labelOffset": 15.5, "rowPadding": 4}}
          }
        },
        {
          "data": {"values": [{"T": 206, "I_nA": 3.37, "label": "(B)"}]},
          "mark": {"type": "text", "font": "Liberation Serif", "fontWeight": "bold", "fontSize": 15, "color": "black"},
          "encoding": {
            "x": {"field": "T", "type": "quantitative", "scale": {"domain": [30, 832], "nice": false},
              "axis": {"orient": "top", "values": [200, 400, 600, 800], "tickSize": 0, "labels": false, "domain": true, "domainWidth": 2, "title": null}},
            "y": {"field": "I_nA", "type": "quantitative", "scale": {"domain": [-0.093, 3.914], "nice": false}, "axis": null},
            "text": {"field": "label"}
          }
        }
      ]
    }
  ]
}
